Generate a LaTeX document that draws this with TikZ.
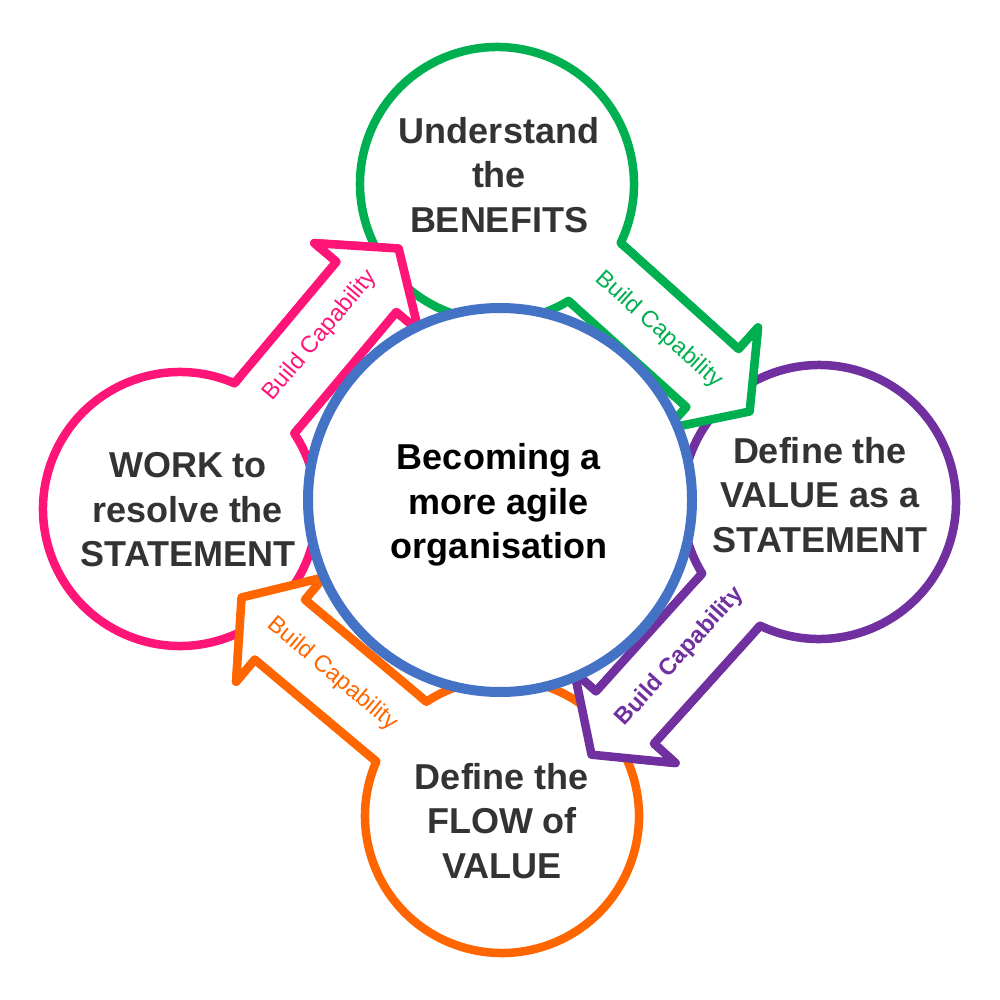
\documentclass[tikz,border=0pt]{standalone}
\usepackage{fontspec}
\setmainfont{Liberation Sans}
\definecolor{cgreen}{HTML}{00B050}
\definecolor{cpink}{RGB}{255,20,120}
\definecolor{cpurple}{HTML}{7030A0}
\definecolor{corange}{RGB}{255,102,0}
\definecolor{cblue}{HTML}{4472C4}
\definecolor{ctext}{HTML}{333333}
\tikzset{
  armline/.style={line width=8.5pt, line join=round},
  bigtext/.style={font=\bfseries\fontsize{36}{44.5}\selectfont, text=ctext, align=center, inner sep=0pt},
  captext/.style={inner sep=0pt},
}
\begin{document}
\begin{tikzpicture}[x=1pt,y=-1pt]
\useasboundingbox (0,0) rectangle (1000,1000);
\coordinate (G) at (497,184);
\coordinate (P) at (819,502);
\coordinate (O) at (502,816);
\coordinate (K) at (180,509);
% circles joined with their arrows
\foreach \c/\col/\ang in {G/cgreen/-42, P/cpurple/-132, O/corange/140, K/cpink/50} {
  \begin{scope}[shift={(\c)}, rotate=\ang]
    \path[armline, draw=\col, fill=white] (16.55:137) -- (290,39) -- (290,68) -- (340,0) -- (290,-68) -- (290,-39) -- (-16.55:137) arc[start angle=-16.55, end angle=-343.45, radius=137] -- cycle;
  \end{scope}
}
% arrows again, on top of the next circle
\foreach \c/\col/\ang/\lrot/\lpos/\loff/\lfont in {G/cgreen/-42/-42/218/0/\mdseries, P/cpurple/-132/48/208/0/\bfseries, O/corange/140/-40/221/0/\mdseries, K/cpink/50/50/223/-4/\mdseries} {
  \begin{scope}[shift={(\c)}, rotate=\ang]
    \fill[white] (141,39) -- (290,39) -- (290,68) -- (340,0) -- (290,-68) -- (290,-39) -- (141,-39) -- cycle;
    \draw[armline, draw=\col] (131.3,39) -- (290,39) -- (290,68) -- (340,0) -- (290,-68) -- (290,-39) -- (131.3,-39);
    \node[captext, text=\col, font={\fontsize{23.5}{28}\selectfont\lfont}, rotate=\lrot] (lab\c) at (\lpos,\loff) {Build Capability};
  \end{scope}
}
% central circle
\node[circle, draw=cblue, line width=10pt, fill=white, minimum size=384pt, inner sep=0pt] (core) at (500,500) {};
\node[bigtext, text=black] (tC) at (499,505) {Becoming a\\more agile\\organisation};
\node[bigtext] (tG) at (499,175) {Understand\\the\\BENEFITS};
\node[bigtext] (tP) at (820,495) {Define the\\VALUE as a\\STATEMENT};
\node[bigtext] (tO) at (502,821) {Define the\\FLOW of\\VALUE};
\node[bigtext] (tK) at (188,510) {WORK to\\resolve the\\STATEMENT};
\end{tikzpicture}
\end{document}
